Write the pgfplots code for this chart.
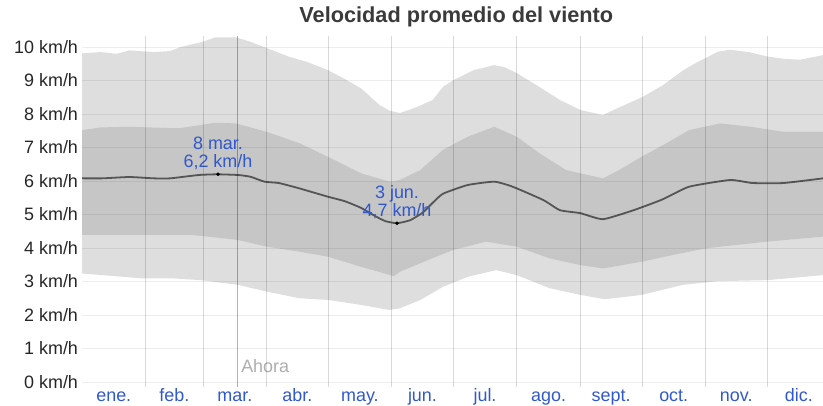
\documentclass[border=0pt]{standalone}
\usepackage{pgfplots}
\pgfplotsset{compat=1.18}
\usepgfplotslibrary{fillbetween}
\usepackage{fontspec}
\setmainfont{Liberation Sans}
\definecolor{outerband}{HTML}{DEDEDE}
\definecolor{innerband}{HTML}{C6C6C6}
\definecolor{medline}{HTML}{555555}
\definecolor{lblblue}{HTML}{3158CC}
\definecolor{titlegray}{HTML}{3A3A3A}
\begin{document}
\begin{tikzpicture}
\begin{axis}[
  scale only axis,
  width=741bp, height=351bp,
  xmin=0, xmax=361.3,
  ymin=-0.15, ymax=10.33,
  axis line style={draw=none},
  tick style={draw=none},
  axis on top,
  clip mode=individual,
  xtick={15.5,45,74.5,105,135.5,166,196.5,227.5,258,288.5,319,349.5},
  xticklabels={ene.,feb.,mar.,abr.,may.,jun.,jul.,ago.,sept.,oct.,nov.,dic.},
  minor xtick={31,59,90,120,151,181,212,243,273,304,334},
  xminorgrids=true,
  xmajorgrids=false,
  minor grid style={black, opacity=0.15, line width=0.8bp},
  ytick={0,1,2,3,4,5,6,7,8,9,10},
  yticklabels={0 km/h,1 km/h,2 km/h,3 km/h,4 km/h,5 km/h,6 km/h,7 km/h,8 km/h,9 km/h,10 km/h},
  ymajorgrids=true,
  major grid style={black, opacity=0.07, line width=0.8bp},
  xticklabel style={font=\fontsize{18}{20}\selectfont, text=lblblue, anchor=base, yshift=-14bp},
  yticklabel style={font=\fontsize{18}{20}\selectfont, text=black!85, anchor=base east, yshift=-6.4bp, xshift=-0.5bp},
]
% outer band (10th-90th percentile)
\addplot[draw=none, name path=ou] coordinates {
(0,9.81)(9,9.85)(17,9.8)(23,9.9)(35,9.85)(43,9.88)(48,10.0)(59,10.16)(65,10.29)(75,10.29)(82,10.16)(90,9.97)(101,9.71)(110,9.55)(120,9.31)(128,9.05)(136,8.77)(145,8.27)(150,8.1)(155,8.03)(163,8.2)(171,8.42)(176,8.81)(181,9.01)(191,9.31)(201,9.46)(206,9.4)(212,9.22)(223,8.81)(233,8.42)(243,8.12)(254,7.97)(262,8.2)(273,8.5)(283,8.85)(293,9.3)(300,9.55)(304,9.67)(310,9.86)(316,9.92)(325,9.85)(334,9.72)(342,9.65)(350,9.62)(361.3,9.76)};
\addplot[draw=none, name path=ol] coordinates {
(0,3.24)(20,3.14)(30,3.09)(45,3.09)(58,3.04)(76,2.9)(90,2.70)(106,2.50)(120,2.45)(136,2.30)(150,2.15)(155,2.2)(165,2.45)(176,2.84)(188,3.14)(202,3.34)(212,3.19)(228,2.80)(243,2.60)(255,2.47)(273,2.60)(293,2.90)(310,3.01)(334,3.04)(361.3,3.19)};
\addplot[outerband] fill between[of=ou and ol];
% inner band (25th-75th percentile)
\addplot[draw=none, name path=iu] coordinates {
(0,7.52)(9,7.6)(23,7.62)(43,7.58)(48,7.58)(65,7.74)(75,7.72)(90,7.47)(106,7.13)(120,6.72)(136,6.23)(150,5.98)(155,6.03)(165,6.33)(176,6.93)(188,7.32)(201,7.62)(212,7.32)(223,6.83)(236,6.33)(243,6.23)(254,6.08)(262,6.33)(273,6.73)(285,7.13)(296,7.52)(311,7.72)(326,7.62)(342,7.47)(361.3,7.47)};
\addplot[draw=none, name path=il] coordinates {
(0,4.39)(30,4.39)(53,4.39)(60,4.35)(76,4.24)(90,4.04)(106,3.89)(120,3.74)(136,3.44)(152,3.16)(155,3.29)(171,3.70)(181,3.94)(197,4.19)(212,4.04)(228,3.69)(243,3.49)(254,3.39)(273,3.59)(288,3.79)(304,3.99)(334,4.19)(361.3,4.34)};
\addplot[innerband] fill between[of=iu and il];
% median
\addplot[medline, line width=1.8bp, smooth, tension=0.3] coordinates {
(0,6.08)(10,6.08)(23,6.12)(35,6.08)(43,6.08)(57,6.18)(66,6.2)(76,6.18)(82,6.13)(89,5.98)(96,5.94)(106,5.78)(120,5.53)(128,5.4)(136,5.2)(143,4.95)(148,4.8)(153.6,4.74)(160,4.83)(166,5.05)(171,5.35)(176,5.62)(188,5.88)(201,5.98)(210,5.83)(225,5.43)(233,5.13)(243,5.04)(254,4.86)(269,5.13)(283,5.45)(296,5.83)(316,6.03)(327,5.94)(342,5.94)(361.3,6.08)};
% Ahora line
\addplot[black, opacity=0.3, line width=0.9bp] coordinates {(75.6,-0.15)(75.6,10.33)};
% highlighted points
\addplot[only marks, mark=*, mark size=1.6bp, black] coordinates {(66.3,6.2)(153.6,4.74)};
\node[anchor=base, text=lblblue, font=\fontsize{18}{20}\selectfont, yshift=7.3bp] at (axis cs:66.3,6.2) {6,2 km/h};
\node[anchor=base, text=lblblue, font=\fontsize{18}{20}\selectfont, yshift=25.3bp] at (axis cs:66.3,6.2) {8 mar.};
\node[anchor=base, text=lblblue, font=\fontsize{18}{20}\selectfont, yshift=7bp] at (axis cs:153.6,4.74) {4,7 km/h};
\node[anchor=base, text=lblblue, font=\fontsize{18}{20}\selectfont, yshift=25bp] at (axis cs:153.6,4.74) {3 jun.};
\node[anchor=base west, text=black!32, font=\fontsize{18}{20}\selectfont, xshift=4bp, inner sep=0pt] at (axis cs:75.6,0.27) {Ahora};
\node[anchor=base, text=titlegray, font=\fontsize{21.8}{24}\selectfont\bfseries, yshift=13bp, inner sep=0pt] at (axis cs:182.5,10.33) {Velocidad promedio del viento};
\end{axis}
\pgfresetboundingbox
\useasboundingbox (-82bp,-19bp) rectangle (741bp,387bp);
\end{tikzpicture}
\end{document}
